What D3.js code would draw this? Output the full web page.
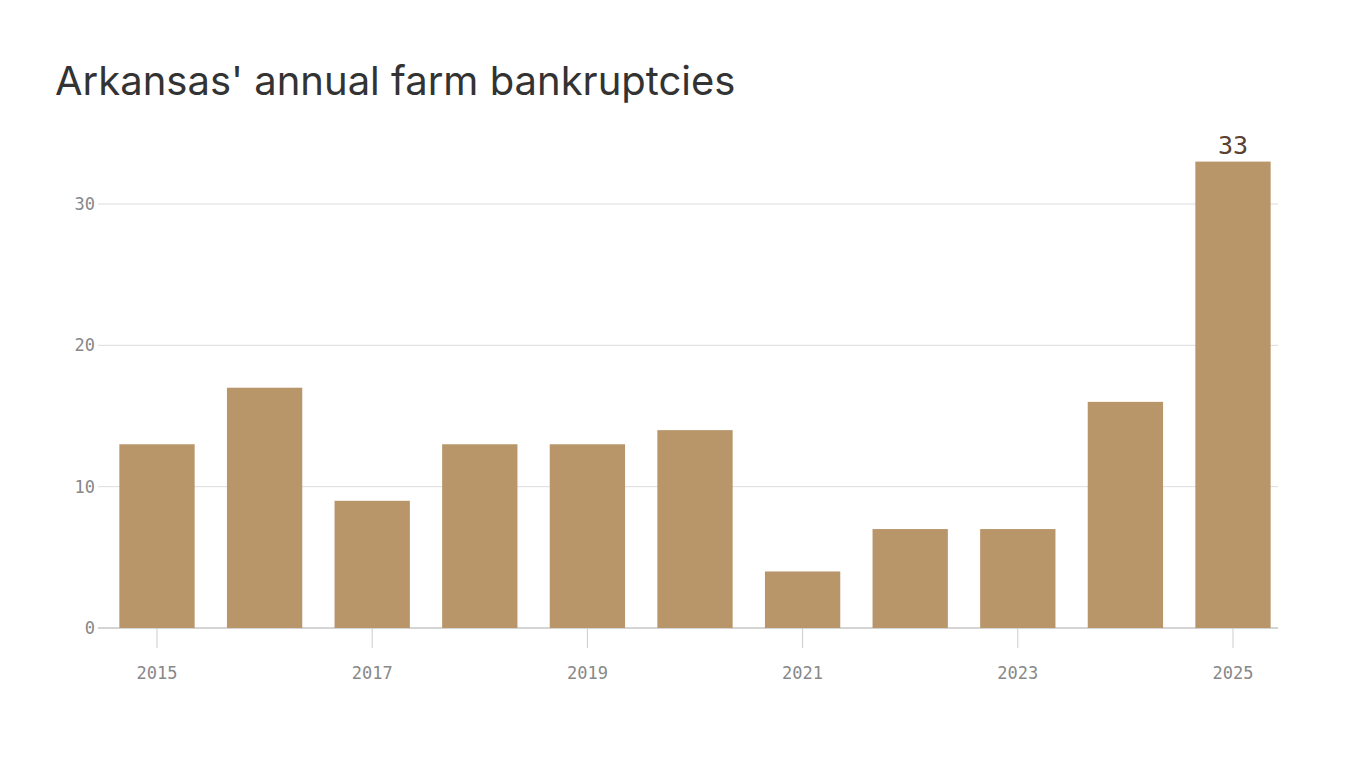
<!DOCTYPE html>
<html><head><meta charset="utf-8">
<script src="https://cdn.jsdelivr.net/npm/d3@7"></script>
<style>body{margin:0;background:#fff}</style>
</head><body><svg width="1366" height="768"></svg>
<script>
var years = [2015,2016,2017,2018,2019,2020,2021,2022,2023,2024,2025];
var values = [13,17,9,13,13,14,4,7,7,16,33];
var yTicks = [0,10,20,30];
var xTickYears = [2015,2017,2019,2021,2023,2025];

var svg = d3.select("svg");
var mono = "'DejaVu Sans Mono', 'Liberation Mono', monospace";

svg.append("text").attr("x",55).attr("y",95)
  .attr("font-family","Inter, 'Noto Sans', sans-serif").attr("font-size",40)
  .attr("fill","#333").text("Arkansas' annual farm bankruptcies");

var x = d3.scaleBand().domain(years).range([103.2,1286.8]).paddingInner(0.3).paddingOuter(0.15);
x.range([103.2 - 0.15*x.step()+0.15*x.step(), 1286.8]);
var y = d3.scaleLinear().domain([0,30]).range([628,204]);

// grid
svg.selectAll(".grid").data(yTicks).enter().append("line")
  .attr("x1",98).attr("x2",1278).attr("y1",y).attr("y2",y)
  .attr("stroke",function(d){return d===0?"#aaa":"#ddd";}).attr("stroke-width",1);
svg.selectAll(".yl").data(yTicks).enter().append("text")
  .attr("x",95).attr("y",function(d){return y(d)+6;}).attr("text-anchor","end")
  .attr("font-family",mono).attr("font-size",17).attr("fill","#888").text(function(d){return d;});

// bars
svg.selectAll(".bar").data(values).enter().append("rect")
  .attr("x",function(d,i){return x(years[i]);}).attr("width",x.bandwidth())
  .attr("y",function(d){return y(d);}).attr("height",function(d){return y(0)-y(d);})
  .attr("fill","#b8966a");

// x ticks
svg.selectAll(".xt").data(xTickYears).enter().append("line")
  .attr("x1",function(d){return x(d)+x.bandwidth()/2;}).attr("x2",function(d){return x(d)+x.bandwidth()/2;})
  .attr("y1",628).attr("y2",648).attr("stroke","#ccc");
svg.selectAll(".xl").data(xTickYears).enter().append("text")
  .attr("x",function(d){return x(d)+x.bandwidth()/2;}).attr("y",679).attr("text-anchor","middle")
  .attr("font-family",mono).attr("font-size",17).attr("fill","#888").text(function(d){return d;});

// last value label
var li = values.length-1;
svg.append("text").attr("x",x(years[li])+x.bandwidth()/2).attr("y",y(values[li])-8)
  .attr("text-anchor","middle").attr("font-family",mono).attr("font-size",25)
  .attr("fill","#5a4030").text(values[li]);
</script></body></html>
